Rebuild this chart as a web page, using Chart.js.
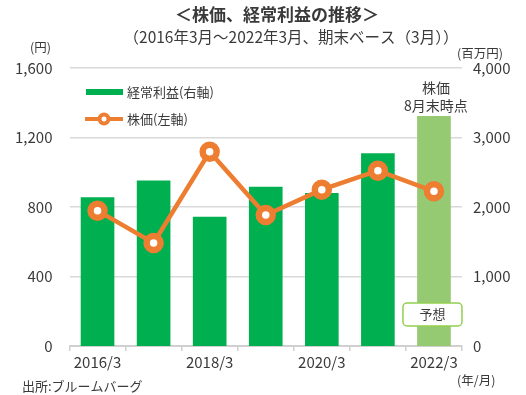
<!DOCTYPE html>
<html><head><meta charset="utf-8">
<script src="https://cdn.jsdelivr.net/npm/chart.js@4"></script>
<style>html,body{margin:0;padding:0;background:#fff}#wrap{width:526px;height:395px;position:relative}</style>
</head><body><div id="wrap"><canvas id="c" width="526" height="395"></canvas></div>
<script>
const categories = ['2016/3','2017/3','2018/3','2019/3','2020/3','2021/3','2022/3'];
const xTickLabels = ['2016/3','','2018/3','','2020/3','','2022/3'];
const profit = [2140, 2380, 1860, 2290, 2200, 2775, 3310]; // 経常利益(百万円), last = 予想
const price = [779, 593, 1118, 754, 900, 1009, 890];     // 株価(円)
const leftTicks = [0, 400, 800, 1200, 1600];
const rightTicks = [0, 1000, 2000, 3000, 4000];

const FONT = '"Noto Sans CJK JP", "Noto Sans", sans-serif';
const TXT = '#3a3a3a';
const GREEN = '#00b050', LGREEN = '#95c972', ORANGE = '#ed7d31';

const overlay = {
  id: 'overlay',
  afterDraw(chart) {
    const ctx = chart.ctx;
    const x = chart.scales.x;
    ctx.save();
    ctx.fillStyle = TXT;
    ctx.textBaseline = 'middle';
    // titles
    ctx.textAlign = 'center';
    ctx.font = 'bold 17px ' + FONT;
    ctx.fillText('＜株価、経常利益の推移＞', 277, 15);
    ctx.font = '15.5px ' + FONT;
    ctx.fillText('（2016年3月～2022年3月、期末ベース（3月））', 291, 37);
    // axis units
    ctx.font = '12.5px ' + FONT;
    ctx.textAlign = 'left';
    ctx.fillText('(円)', 30, 47);
    ctx.fillText('(百万円)', 457, 53);
    ctx.fillText('(年/月)', 457, 380);
    ctx.font = '13px ' + FONT;
    ctx.fillText('出所:ブルームバーグ', 22, 386);
    // legend
    ctx.fillStyle = GREEN;
    ctx.fillRect(86, 89, 37, 6);
    ctx.strokeStyle = ORANGE;
    ctx.lineWidth = 4;
    ctx.beginPath(); ctx.moveTo(85, 119); ctx.lineTo(123, 119); ctx.stroke();
    ctx.beginPath(); ctx.arc(104, 119, 6.5, 0, Math.PI*2); ctx.fillStyle = ORANGE; ctx.fill();
    ctx.beginPath(); ctx.arc(104, 119, 2.5, 0, Math.PI*2); ctx.fillStyle = '#fff'; ctx.fill();
    ctx.fillStyle = TXT;
    ctx.font = '13px ' + FONT;
    ctx.fillText('経常利益(右軸)', 127, 92);
    ctx.fillText('株価(左軸)', 127, 119);
    // annotation above last bar
    const cx = x.getPixelForValue(6);
    ctx.textAlign = 'center';
    ctx.font = '14px ' + FONT;
    ctx.fillText('株価', cx + 2, 88);
    ctx.fillText('8月末時点', cx + 2, 106);
    // 予想 box
    const bx = cx - 31, by = 303, bw = 59, bh = 23, r = 4;
    ctx.beginPath();
    ctx.roundRect(bx, by, bw, bh, r);
    ctx.fillStyle = '#fff'; ctx.fill();
    ctx.strokeStyle = '#92d050'; ctx.lineWidth = 1.5; ctx.stroke();
    ctx.fillStyle = TXT;
    ctx.font = '13px ' + FONT;
    ctx.fillText('予想', bx + bw/2, by + bh/2);
    ctx.restore();
  }
};

new Chart(document.getElementById('c'), {
  type: 'bar',
  data: {
    labels: categories,
    datasets: [
      {
        type: 'line', label: '株価(左軸)', data: price, yAxisID: 'y', order: 0,
        borderColor: ORANGE, borderWidth: 4.5, backgroundColor: '#fff',
        pointBackgroundColor: '#fff', pointBorderColor: ORANGE,
        pointRadius: 7, pointBorderWidth: 6.5, tension: 0
      },
      {
        type: 'bar', label: '経常利益(右軸)', data: profit, yAxisID: 'y1', order: 1,
        backgroundColor: profit.map((v, i) => i === profit.length - 1 ? LGREEN : GREEN),
        barPercentage: 0.6, categoryPercentage: 1.0
      }
    ]
  },
  options: {
    responsive: false, animation: false,
    layout: { padding: { top: 68, left: 0, right: 0, bottom: 0 } },
    plugins: { legend: { display: false }, tooltip: { enabled: false } },
    scales: {
      x: {
        afterFit(s) { s.height = 49; },
        grid: { display: true, drawOnChartArea: false, drawTicks: true, tickLength: 5, color: '#d0d0d0', lineWidth: 1.5, offset: true },
        border: { display: true, color: '#d0d0d0', width: 2 },
        ticks: {
          autoSkip: false, maxRotation: 0, padding: 2, color: TXT,
          font: { family: FONT, size: 15 },
          callback: (v, i) => xTickLabels[i]
        }
      },
      y: {
        position: 'left', min: 0, max: 1600,
        afterFit(s) { s.width = 69.5; },
        afterBuildTicks(s) { s.ticks = leftTicks.map(v => ({ value: v })); },
        grid: { drawTicks: false, color: '#d9d9d9', lineWidth: 1.5 },
        border: { display: false },
        ticks: { padding: 17, color: TXT, font: { family: FONT, size: 15 },
          callback: v => v.toLocaleString('en-US') }
      },
      y1: {
        position: 'right', min: 0, max: 4000,
        afterFit(s) { s.width = 64; },
        afterBuildTicks(s) { s.ticks = rightTicks.map(v => ({ value: v })); },
        grid: { display: false, drawTicks: false },
        border: { display: false },
        ticks: { padding: 11, color: TXT, font: { family: FONT, size: 15 },
          callback: v => v.toLocaleString('en-US') }
      }
    }
  },
  plugins: [overlay]
});
</script></body></html>
